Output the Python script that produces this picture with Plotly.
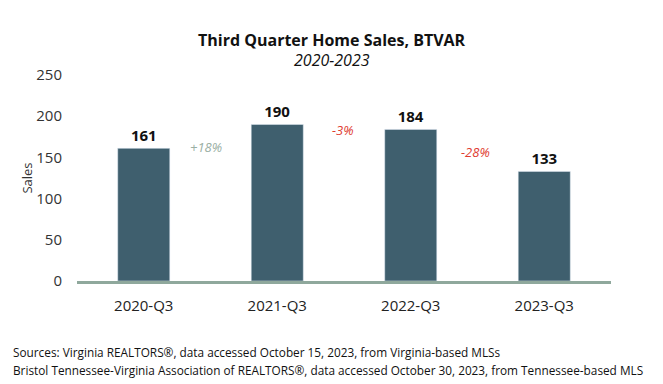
import plotly.graph_objects as go

quarters = ["2020-Q3", "2021-Q3", "2022-Q3", "2023-Q3"]
sales = [161, 190, 184, 133]
changes = ["+18%", "-3%", "-28%"]
change_x = [0.466, 1.489, 2.485]
change_y = [162.5, 183, 156.5]
change_colors = ["#9aafa4", "#e03c31", "#e03c31"]

fig = go.Figure()
fig.add_trace(go.Bar(
    x=list(range(len(quarters))), y=sales,
    marker_color="#3f5f6e", width=0.39,
    text=[str(v) for v in sales], textposition="outside",
    textfont=dict(family="Open Sans", size=15, color="#111111", weight="bold"),
    cliponaxis=False, hoverinfo="skip",
))

for t, x, y, c in zip(changes, change_x, change_y, change_colors):
    fig.add_annotation(x=x, y=y, text=f"<i>{t}</i>", showarrow=False,
                       font=dict(family="Open Sans", size=13, color=c))

title_x = 0.4766
fig.add_annotation(xref="paper", yref="paper", x=title_x, y=1.0, yshift=35, yanchor="middle",
                   text="<b>Third Quarter Home Sales, BTVAR</b>",
                   showarrow=False, font=dict(family="Open Sans", size=16, color="#111111"), xanchor="center")
fig.add_annotation(xref="paper", yref="paper", x=title_x, y=1.0, yshift=15, yanchor="middle",
                   text="<i>2020-2023</i>",
                   showarrow=False, font=dict(family="Open Sans", size=16, color="#111111"), xanchor="center")

footer = [
    "Sources: Virginia REALTORS®, data accessed October 15, 2023, from Virginia-based MLSs",
    "Bristol Tennessee-Virginia Association of REALTORS®, data accessed October 30, 2023, from Tennessee-based MLS",
]
for i, line in enumerate(footer):
    fig.add_annotation(xref="paper", yref="paper", x=-0.1236, y=0, yshift=-71 - 18 * i,
                       xanchor="left", yanchor="middle", align="left", showarrow=False,
                       text=line, font=dict(family="Open Sans", size=11.8, color="#111111"))

fig.update_layout(
    width=663, height=384,
    margin=dict(l=69, r=60, t=67, b=111),
    paper_bgcolor="white", plot_bgcolor="white",
    showlegend=False,
    font=dict(family="Open Sans", color="#333333"),
    xaxis=dict(tickmode="array", tickvals=list(range(len(quarters))), ticktext=quarters,
               range=[-0.5, 3.5], showline=True, linecolor="#8fa89c", linewidth=3,
               ticks="", tickfont=dict(size=15, color="#222222"), ticklabelstandoff=9,
               showgrid=False, zeroline=False),
    yaxis=dict(range=[0, 250], dtick=50, showgrid=False, zeroline=False, showline=False,
               tickfont=dict(size=15, color="#333333"), ticklabelstandoff=14,
               title=dict(text="Sales", font=dict(size=13, color="#333333"), standoff=0)),
)

fig.write_html("out.html")
